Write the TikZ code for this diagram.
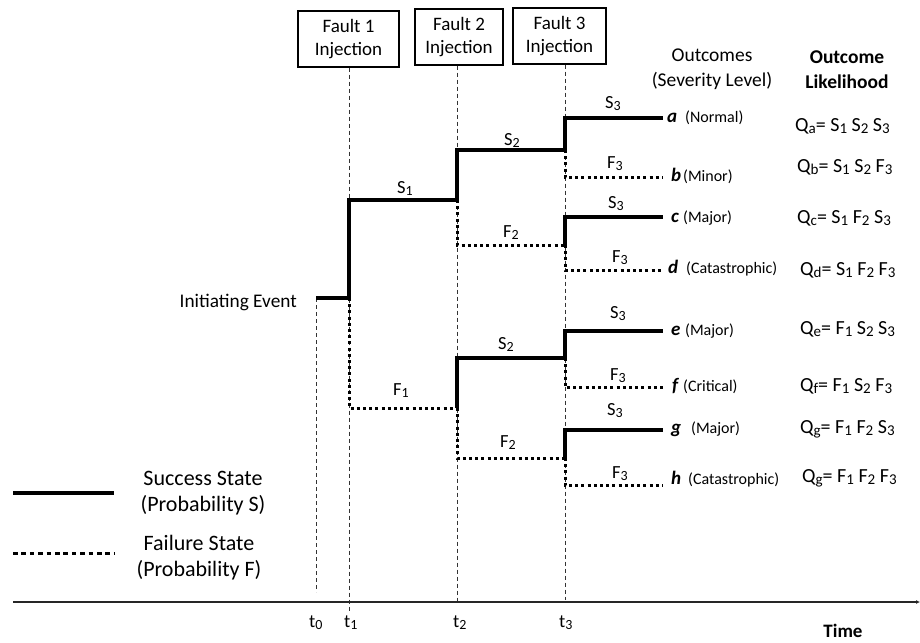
\documentclass[tikz,border=0pt]{standalone}
\usepackage{fontspec}
\setmainfont{Carlito}
\usetikzlibrary{arrows.meta}
% lowered subscript used throughout the labels
\newcommand\lowsub[1]{\raisebox{-2.5pt}{\fontsize{14}{14}\selectfont #1}}
\newcommand\qsub[1]{\raisebox{-2.8pt}{\fontsize{15}{15}\selectfont #1}}
\newcommand\fsz[1]{\fontsize{#1}{#1}\selectfont}

\begin{document}
\begin{tikzpicture}[x=1pt,y=-1pt,
  succ/.style={line width=3.5pt, line join=miter},
  fail/.style={line width=3pt, dash pattern=on 3pt off 3.2pt},
  guide/.style={line width=0.8pt, dash pattern=on 4pt off 3pt, black!80},
  faultbox/.style={draw, line width=1.1pt, minimum height=56pt, inner sep=0pt,
    align=center, font=\fontsize{19}{23}\selectfont},
  lbl/.style={anchor=base west, inner sep=0pt, font=\fsz{18.5}},
  outc/.style={anchor=base west, inner sep=0pt, font=\fsz{19}\bfseries\itshape},
  sev/.style={anchor=base west, inner sep=0pt, font=\fsz{16}},
  qform/.style={anchor=base west, inner sep=0pt, font=\fsz{20}},
  legtext/.style={align=center, inner sep=0pt, font=\fontsize{22}{26}\selectfont}]
\useasboundingbox (0,0) rectangle (920,642);

% fault injection boxes
\node[faultbox, minimum width=101pt] (f1) at (348.5,39) {Fault 1\\Injection};
\node[faultbox, minimum width=88pt] (f2) at (459,37) {Fault 2\\Injection};
\node[faultbox, minimum width=93pt] (f3) at (559.5,36) {Fault 3\\Injection};

% column headers
\node[align=center, inner sep=0pt, font=\fontsize{19.5}{25}\selectfont] (hout) at (712,69.5) {Outcomes\\(Severity Level)};
\node[align=center, inner sep=0pt, font=\fontsize{19.5}{25}\selectfont\bfseries] (hlik) at (847,69.5) {Outcome\\Likelihood};

% time instants
\coordinate (g0a) at (316,298); \coordinate (g0b) at (316,592);
\coordinate (g1b) at (349,612);
\coordinate (g2b) at (457,603);
\coordinate (g3b) at (565,600);
\draw[guide] (g0a) -- (g0b);
\draw[guide] (f1.south -| g1b) -- (g1b);
\draw[guide] (f2.south -| g2b) -- (g2b);
\draw[guide] (f3.south -| g3b) -- (g3b);

% time axis
\coordinate (ax0) at (13,602); \coordinate (ax1) at (920,602);
\draw[line width=2.2pt, black!85, -{Latex[length=4pt,width=4pt]}] (ax0) -- (ax1);
\node[lbl] (t0) at (309,627) {t\lowsub{0}};
\node[lbl] (t1) at (344,627) {t\lowsub{1}};
\node[lbl] (t2) at (453,627) {t\lowsub{2}};
\node[lbl] (t3) at (559,627) {t\lowsub{3}};
\node[anchor=base, inner sep=0pt, font=\fsz{19}\bfseries] (time) at (843,637) {Time};

% branching points of the event tree
\coordinate (ie)  at (316,298);
\coordinate (n1)  at (349,298);
\coordinate (n2a) at (457,200);
\coordinate (n2b) at (457,408);
\coordinate (n3a) at (565,150);
\coordinate (n3b) at (565,245);
\coordinate (n3c) at (565,358);
\coordinate (n3d) at (565,458);
\coordinate (ea) at (663,118);
\coordinate (eb) at (663,177);
\coordinate (ec) at (663,217);
\coordinate (ed) at (663,270);
\coordinate (ee) at (663,331);
\coordinate (ef) at (663,387);
\coordinate (eg) at (663,430);
\coordinate (eh) at (663,485);

\node[anchor=base east, inner sep=0pt, font=\fsz{19.3}] (iev) at (297,307) {Initiating Event};

% failure branches (drawn first)
\draw[fail] (n1) |- (n2b);
\draw[fail] (n2a) |- (n3b);
\draw[fail] (n2b) |- (n3d);
\draw[fail] (n3a) |- (eb);
\draw[fail] (n3b) |- (ed);
\draw[fail] (n3c) |- (ef);
\draw[fail] (n3d) |- (eh);
% success branches
\draw[succ] (ie) -- (n1) |- (n2a);
\draw[succ] (n2a) |- (n3a);
\draw[succ] (n2b) |- (n3c);
\draw[succ] (n3a) |- (ea);
\draw[succ] (n3b) |- (ec);
\draw[succ] (n3c) |- (ee);
\draw[succ] (n3d) |- (eg);

% branch labels
\node[lbl] (ls1)  at (397,193) {S\lowsub{1}};
\node[lbl] (lf1)  at (393,395) {F\lowsub{1}};
\node[lbl] (ls2a) at (504,145) {S\lowsub{2}};
\node[lbl] (lf2a) at (503,237) {F\lowsub{2}};
\node[lbl] (ls2b) at (498,349) {S\lowsub{2}};
\node[lbl] (lf2b) at (500,447) {F\lowsub{2}};
\node[lbl] (ls3a) at (605,108) {S\lowsub{3}};
\node[lbl] (lf3b) at (607,168) {F\lowsub{3}};
\node[lbl] (ls3c) at (608,208) {S\lowsub{3}};
\node[lbl] (lf3d) at (612,262) {F\lowsub{3}};
\node[lbl] (ls3e) at (610,318) {S\lowsub{3}};
\node[lbl] (lf3f) at (610,380) {F\lowsub{3}};
\node[lbl] (ls3g) at (607,415) {S\lowsub{3}};
\node[lbl] (lf3h) at (612,478) {F\lowsub{3}};

% outcomes and severity levels
\node[outc] (oa) at (667,122) {a};  \node[sev] at (685,122) {(Normal)};
\node[outc] (ob) at (671,181) {b};  \node[sev] at (683,181) {(Minor)};
\node[outc] (oc) at (671,222) {c};  \node[sev] at (683,222) {(Major)};
\node[outc] (od) at (668,273) {d};  \node[sev] at (686,273) {(Catastrophic)};
\node[outc] (oe) at (671,335) {e};  \node[sev] at (685,335) {(Major)};
\node[outc] (of) at (672,391) {f};  \node[sev] at (683,391) {(Critical)};
\node[outc] (og) at (671,433) {g};  \node[sev] at (691,433) {(Major)};
\node[outc] (oh) at (671,484) {h};  \node[sev] at (688,484) {(Catastrophic)};

% outcome likelihoods
\node[qform] (qa) at (795,131) {Q\qsub{a}= S\qsub{1} S\qsub{2} S\qsub{3}};
\node[qform] (qb) at (797,172) {Q\qsub{b}= S\qsub{1} S\qsub{2} F\qsub{3}};
\node[qform] (qc) at (797,223) {Q\qsub{c}= S\qsub{1} F\qsub{2} S\qsub{3}};
\node[qform] (qd) at (800,275) {Q\qsub{d}= S\qsub{1} F\qsub{2} F\qsub{3}};
\node[qform] (qe) at (800,334) {Q\qsub{e}= F\qsub{1} S\qsub{2} S\qsub{3}};
\node[qform] (qf) at (800,391) {Q\qsub{f}= F\qsub{1} S\qsub{2} F\qsub{3}};
\node[qform] (qg) at (800,433) {Q\qsub{g}= F\qsub{1} F\qsub{2} S\qsub{3}};
\node[qform] (qh) at (802,482) {Q\qsub{g}= F\qsub{1} F\qsub{2} F\qsub{3}};

% legend
\coordinate (ls0) at (13,493); \coordinate (ls1e) at (114,493);
\coordinate (lf0) at (13,553); \coordinate (lf1e) at (114,553);
\draw[succ] (ls0) -- (ls1e);
\draw[fail, dash pattern=on 4.5pt off 3.9pt] (lf0) -- (lf1e);
\node[legtext] (legs) at (203,493) {Success State\\(Probability S)};
\node[legtext] (legf) at (199,558) {Failure State\\(Probability F)};
\end{tikzpicture}
\end{document}
